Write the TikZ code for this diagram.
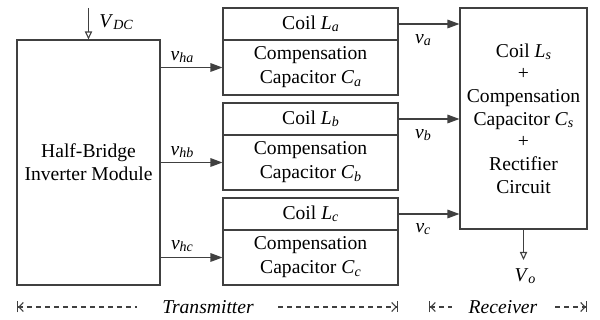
\documentclass[tikz,border=0pt]{standalone}
\usepackage{fontspec}
\setmainfont{LiberationSerif}[Extension=.ttf,UprightFont=*-Regular,ItalicFont=*-Italic,BoldFont=*-Bold,BoldItalicFont=*-BoldItalic]
\usetikzlibrary{arrows.meta,calc}
\newcommand{\iv}[2]{\textit{#1}\raisebox{-0.25ex}{\fontsize{7}{8}\selectfont\textit{#2}}}
\begin{document}
\begin{tikzpicture}[x=0.5pt,y=-0.5pt,
  font=\fontsize{9.8}{12}\selectfont,
  lc/.style={line width=0.55pt,draw=black!75},
  box/.style={lc,rectangle,inner sep=0pt,align=center},
  arr/.style={lc,-{Triangle[length=6pt,width=4.3pt]}},
  openarr/.style={lc,-{Triangle[open,length=4pt,width=3.6pt]}},
  dim/.style={lc,dash pattern=on 2.6pt off 1.9pt},
  lbl/.style={inner sep=0pt}]
\useasboundingbox (0,0) rectangle (600,320);
% inverter
\node[box,minimum width=71.5pt,minimum height=122.5pt,
  font=\fontsize{9.8}{11.5}\selectfont] (inv) at (88.5,162.5) {Half-Bridge\\Inverter Module};
% transmitter branches
\node[box,minimum width=87.5pt,minimum height=16pt] (coila) at (310.5,24) {Coil \iv{L}{a}};
\node[box,minimum width=87.5pt,minimum height=27.5pt] (capa) at (310.5,67.5) {Compensation\\Capacitor \iv{C}{a}};
\node[box,minimum width=87.5pt,minimum height=16pt] (coilb) at (310.5,119) {Coil \iv{L}{b}};
\node[box,minimum width=87.5pt,minimum height=27.5pt] (capb) at (310.5,162.5) {Compensation\\Capacitor \iv{C}{b}};
\node[box,minimum width=87.5pt,minimum height=16pt] (coilc) at (310.5,214) {Coil \iv{L}{c}};
\node[box,minimum width=87.5pt,minimum height=27.5pt] (capc) at (310.5,257.5) {Compensation\\Capacitor \iv{C}{c}};
% receiver
\node[box,minimum width=63.5pt,minimum height=110.5pt,
  font=\fontsize{9.8}{11.35}\selectfont] (rx) at (523.5,118.5)
  {Coil \iv{L}{s}\\+\\Compensation\\Capacitor \iv{C}{s}\\+\\Rectifier\\Circuit};
% supply
\coordinate (vdc) at (88.5,8);
\draw[openarr] (vdc) -- (vdc |- inv.north);
\node[lbl,anchor=west] (vdclbl) at (99,22) {\iv{V}{DC}};
% inputs
\draw[arr] (inv.east |- capa.west) -- (capa.west);
\draw[arr] (inv.east |- capb.west) -- (capb.west);
\draw[arr] (inv.east |- capc.west) -- (capc.west);
\node[lbl] (vha) at (182,57) {\iv{v}{ha}};
\node[lbl] (vhb) at (182,152) {\iv{v}{hb}};
\node[lbl] (vhc) at (182,246) {\iv{v}{hc}};
% outputs
\draw[arr] (coila.east) -- (coila.east -| rx.west);
\draw[arr] (coilb.east) -- (coilb.east -| rx.west);
\draw[arr] (coilc.east) -- (coilc.east -| rx.west);
\node[lbl] (va) at (423,40) {\iv{v}{a}};
\node[lbl] (vb) at (423,135) {\iv{v}{b}};
\node[lbl] (vc) at (423,229) {\iv{v}{c}};
% output voltage
\coordinate (vo) at (523.5,260);
\draw[openarr] (rx.south) -- (vo);
\node[lbl] (volbl) at (525,276) {\iv{V}{o}};
% dimension lines
\coordinate (t1) at (17,307);
\coordinate (t2) at (137,307);
\coordinate (t3) at (278,307);
\coordinate (t4) at (398,307);
\node[lbl,font=\fontsize{9.8}{12}\selectfont\itshape] (tx) at (208,307) {Transmitter};
\draw[dim,{Bar[width=5.5pt,line width=0.55pt]Straight Barb[length=2.2pt,width=4.5pt,sep=0pt]}-] (t1) -- (t2);
\draw[dim,-{Straight Barb[length=2.2pt,width=4.5pt,sep=0pt]Bar[width=5.5pt,line width=0.55pt]}] (t3) -- (t4);
\coordinate (r1) at (429,307);
\coordinate (r2) at (452,307);
\coordinate (r3) at (555,307);
\coordinate (r4) at (587,307);
\node[lbl,font=\fontsize{9.8}{12}\selectfont\itshape] (rxl) at (503,307) {Receiver};
\draw[dim,{Bar[width=5.5pt,line width=0.55pt]Straight Barb[length=2.2pt,width=4.5pt,sep=0pt]}-] (r1) -- (r2);
\draw[dim,-{Straight Barb[length=2.2pt,width=4.5pt,sep=0pt]Bar[width=5.5pt,line width=0.55pt]}] (r3) -- (r4);
\end{tikzpicture}
\end{document}
